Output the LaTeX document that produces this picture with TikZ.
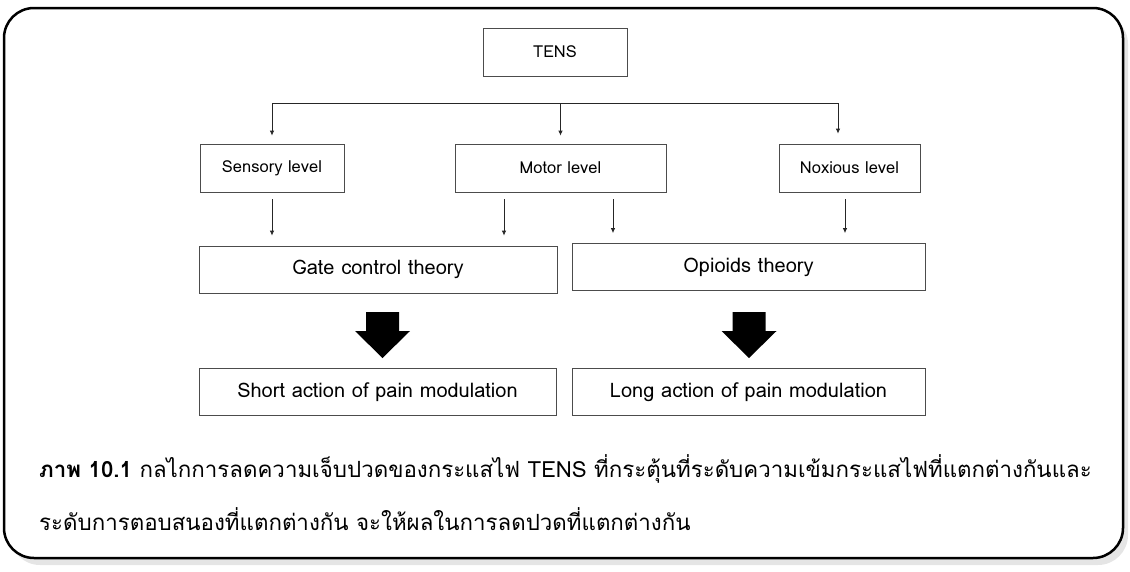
\documentclass[tikz,border=0pt]{standalone}
\usepackage{fontspec}
\setmainfont[Script=Thai]{Loma}
\usetikzlibrary{arrows.meta,calc,positioning}

\begin{document}
\begin{tikzpicture}[x=1pt,y=-1pt,
  box/.style={draw=black!70,line width=0.8pt,inner sep=0pt,minimum height=48pt,font=\fontsize{16.5}{19}\selectfont},
  bigbox/.style={box,minimum height=47pt,font=\fontsize{20}{23}\selectfont},
  arr/.style={black!85,line width=0.8pt,-{Latex[length=5pt,width=4.5pt]}},
  caption/.style={anchor=base west,inner sep=0pt,font=\fontsize{22.3}{26}\selectfont}]
\useasboundingbox (0,0) rectangle (1130,571);
% frame and its shadow
\fill[black!10,rounded corners=30pt] (10,14) rectangle (1128,565);
\draw[line width=2.5pt,fill=white,rounded corners=30pt] (4,8) rectangle (1123,558);

% top and the three levels
\node[box,minimum width=144pt] (tens) at (555,52) {TENS};
\node[box,minimum width=144pt] (sensory) at (272,168) {Sensory level};
\node[box,minimum width=211pt] (motor) at (560.5,168) {Motor level};
\node[box,minimum width=141pt] (noxious) at (849.5,168) {Noxious level};

% theories and results
\node[bigbox,minimum width=358pt] (gate) at (378,269.5) {Gate control theory};
\node[bigbox,minimum width=353pt] (opioids) at (748.5,267) {Opioids theory};
\node[bigbox,minimum width=357pt] (short) at (377.5,392) {Short action of pain modulation};
\node[bigbox,minimum width=353pt] (long) at (748.5,392) {Long action of pain modulation};

% branch from TENS
\coordinate (bl) at (272,103);
\coordinate (br) at (838,103);
\draw[black!85,line width=0.8pt] (bl) -- (br);
\draw[arr,shorten >=8pt] (bl) -- (bl |- sensory.north);
\draw[arr,shorten >=8pt] (motor.north |- bl) -- (motor.north);
\draw[arr,shorten >=10pt] (br) -- (br |- noxious.north);

% levels down to theories
\foreach \a/\dx/\b in {sensory/0/gate,motor/-56.5/gate,motor/52.5/opioids,noxious/-4.5/opioids}
  \draw[arr,shorten <=7pt,shorten >=10pt] ([xshift=\dx pt]\a.south) -- ([xshift=\dx pt]\a.south |- \b.north);

% thick block arrows
\foreach \cx in {382.5,749}
  \fill (\cx-16.5,312) -- (\cx+16.5,312) -- (\cx+16.5,331) -- (\cx+27.5,331)
    -- (\cx,358) -- (\cx-27.5,331) -- (\cx-16.5,331) -- cycle;

% caption
\node[caption] (cap1) at (39,477) {\textbf{ภาพ 10.1} กลไกการลดความเจ็บปวดของกระแสไฟ TENS ที่กระตุ้นที่ระดับความเข้มกระแสไฟที่แตกต่างกันและ};
\node[caption] (cap2) at (39,530) {ระดับการตอบสนองที่แตกต่างกัน จะให้ผลในการลดปวดที่แตกต่างกัน};
\end{tikzpicture}
\end{document}
